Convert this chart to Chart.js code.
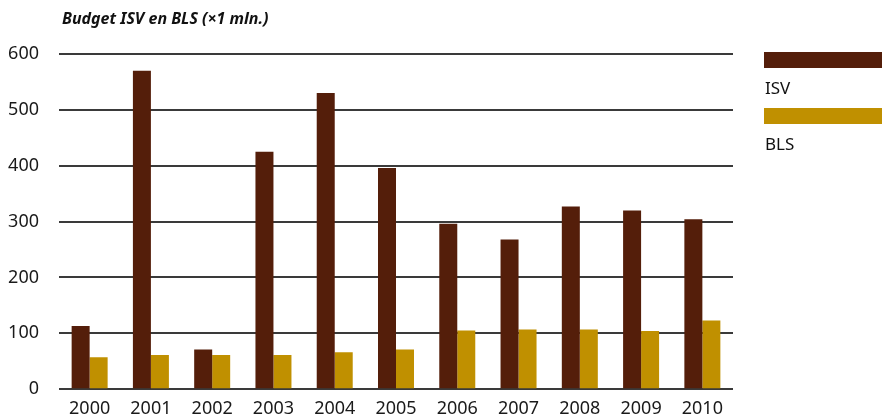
<!DOCTYPE html>
<html>
<head>
<meta charset="utf-8">
<script src="https://cdn.jsdelivr.net/npm/chart.js@4"></script>
<style>
  html,body{margin:0;padding:0;background:#fff;}
  #wrap{position:relative;width:882px;height:420px;overflow:hidden;}
  #title{position:absolute;left:62px;top:7px;font:italic bold 16px "Noto Sans",sans-serif;color:#111;white-space:nowrap;}
  #legend{position:absolute;left:764px;top:52px;font:17px "Noto Sans",sans-serif;color:#111;}
  .sw{width:118px;height:16px;}
  .lb{height:41px;line-height:41px;padding-left:1px;margin-top:-1px;}
  canvas{position:absolute;left:0;top:0;}
</style>
</head>
<body>
<div id="wrap">
  <canvas id="c" width="882" height="420"></canvas>
  <div id="title">Budget ISV en BLS (×1 mln.)</div>
  <div id="legend"></div>
</div>
<script>
const years = ['2000','2001','2002','2003','2004','2005','2006','2007','2008','2009','2010'];
const isv = [113, 570, 71, 425, 530, 396, 296, 268, 327, 320, 304];
const bls = [57, 61, 61, 61, 66, 71, 105, 107, 107, 104, 123];
const seriesNames = ['ISV', 'BLS'];
const seriesColors = ['#541e0a', '#c09000'];
const yTicks = [0, 100, 200, 300, 400, 500, 600];

const chart = new Chart(document.getElementById('c'), {
  type: 'bar',
  data: {
    labels: years,
    datasets: [
      {label: seriesNames[0], data: isv, backgroundColor: seriesColors[0], borderWidth: 0},
      {label: seriesNames[1], data: bls, backgroundColor: seriesColors[1], borderWidth: 0}
    ]
  },
  options: {
    responsive: false,
    animation: false,
    devicePixelRatio: 1,
    layout: {padding: {left: 0, right: 149, top: 54, bottom: 0}},
    plugins: {legend: {display: false}, title: {display: false}, tooltip: {enabled: false}},
    datasets: {bar: {categoryPercentage: 0.5875, barPercentage: 1.0}},
    scales: {
      x: {
        grid: {display: false, drawTicks: false},
        border: {display: false},
        ticks: {color: '#1a1a1a', font: {family: 'Noto Sans', size: 18}, padding: 9, maxRotation: 0},
        afterFit: s => { s.height = 28; }
      },
      y: {
        min: 0, max: 600,
        afterBuildTicks: s => { s.ticks = yTicks.map(v => ({value: v})); },
        grid: {color: '#3a3a3a', lineWidth: 2, drawTicks: false},
        border: {display: false},
        ticks: {color: '#1a1a1a', font: {family: 'Noto Sans', size: 18}, padding: 20},
        afterFit: s => { s.width = 59; }
      }
    }
  }
});

const leg = document.getElementById('legend');
chart.data.datasets.forEach(ds => {
  const sw = document.createElement('div');
  sw.className = 'sw';
  sw.style.background = ds.backgroundColor;
  const lb = document.createElement('div');
  lb.className = 'lb';
  lb.textContent = ds.label;
  leg.appendChild(sw);
  leg.appendChild(lb);
});
</script>
</body>
</html>
